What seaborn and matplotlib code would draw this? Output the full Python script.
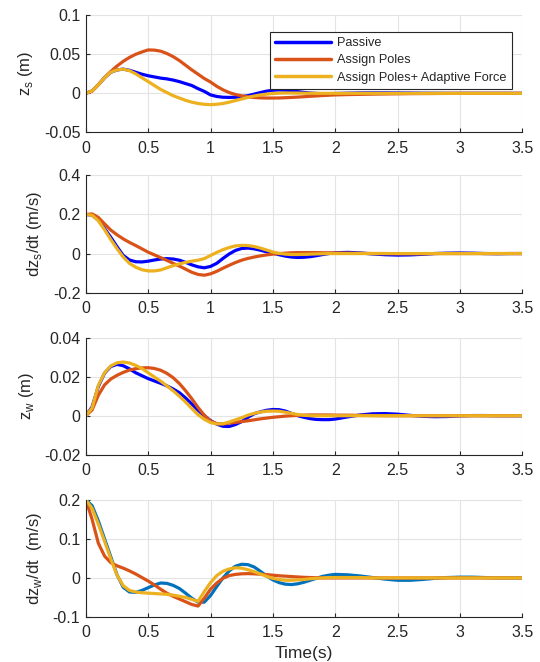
import numpy as np
import pandas as pd
import seaborn as sns
import matplotlib
matplotlib.use("Agg")
import matplotlib.pyplot as plt

# time grid of the read-off samples
t = np.round(np.concatenate([np.arange(0, 2.001, 0.05), np.arange(2.1, 3.501, 0.1)]), 2)

labels = ["Passive", "Assign Poles", "Assign Poles+ Adaptive Force"]

# ---- z_s (m)
zs_passive = [0, .003, .011, .020, .027, .030, .031, .0295, .027, .0245, .0225,
              .021, .0195, .0185, .017, .015, .0125, .010, .006, .0025, -.002,
              -.004, -.005, -.0052, -.005, -.0042, -.003, -.001, .001, .0028, .004,
              .0043, .004, .0032, .0022, .0012, .0004, -.0001, -.0004, -.0004, -.0002,
              .0002, .0005, .0006, .0006, .0005, .0004, .0002, .0001, 0, 0, 0, 0, 0, 0, 0]
zs_poles = [0, .003, .011, .020, .028, .035, .041, .046, .050, .053, .0556,
            .0553, .054, .051, .047, .042, .036, .030, .0245, .019, .0145,
            .009, .0045, .001, -.0015, -.0032, -.0045, -.0053, -.0058, -.006, -.006,
            -.0059, -.0056, -.0052, -.0048, -.0043, -.0038, -.0033, -.0028, -.0024, -.002,
            -.0016, -.0013, -.001, -.0008, -.0006, -.0004, -.0003, -.0002, -.0001, 0, 0, 0, 0, 0, 0]
zs_adaptive = [0, .003, .011, .020, .027, .030, .031, .029, .025, .020, .015,
               .010, .005, .001, -.003, -.006, -.009, -.0113, -.013, -.014, -.0145,
               -.014, -.013, -.0113, -.0093, -.0072, -.0052, -.0034, -.002, -.001, -.0003,
               .0002, .0004, .0004, .0003, .0002, .0001, 0, 0, 0, 0,
               0, 0, 0, 0, 0, 0, 0, 0, 0, 0, 0, 0, 0, 0, 0]

# ---- dz_s/dt (m/s)
dzs_passive = [.200, .197, .172, .128, .083, .035, -.010, -.033, -.042, -.043, -.039,
               -.033, -.028, -.026, -.028, -.034, -.045, -.058, -.068, -.073, -.066,
               -.050, -.025, -.002, .016, .026, .028, .024, .017, .009, .002,
               -.006, -.013, -.018, -.020, -.019, -.016, -.011, -.005, 0, .004,
               .006, .003, -.002, -.006, -.008, -.007, -.004, 0, .002, .003, .002, 0, -.001, 0, 0]
dzs_poles = [.200, .203, .185, .152, .120, .096, .075, .057, .041, .024, .007,
             -.007, -.021, -.035, -.050, -.064, -.080, -.096, -.107, -.111, -.104,
             -.091, -.075, -.060, -.046, -.034, -.025, -.018, -.012, -.007, -.003,
             0, .002, .004, .005, .005, .005, .005, .004, .004, .003,
             .002, .001, 0, 0, -.001, -.001, -.001, 0, 0, 0, 0, 0, 0, 0, 0]
dzs_adaptive = [.200, .196, .168, .122, .072, .025, -.018, -.050, -.070, -.083, -.089,
                -.089, -.084, -.073, -.062, -.053, -.045, -.039, -.034, -.026, -.010,
                .006, .020, .031, .039, .042, .041, .036, .028, .018, .008,
                .001, -.003, -.005, -.005, -.004, -.003, -.002, -.001, 0, 0,
                0, 0, 0, 0, 0, 0, 0, 0, 0, 0, 0, 0, 0, 0, 0]

# ---- z_w (m)
zw_passive = [0, .0045, .015, .0218, .0252, .0263, .0256, .024, .022, .0205, .019,
              .0178, .0166, .0153, .0137, .0118, .0091, .006, .0028, 0, -.0025,
              -.0043, -.0054, -.0055, -.0045, -.003, -.0008, .001, .002, .0028, .0032,
              .0031, .0024, .0012, 0, -.0008, -.0015, -.0019, -.002, -.002, -.0017,
              -.0006, .0004, .001, .0011, .0008, .0002, -.0003, -.0005, -.0004, -.0001,
              .0001, .0001, 0, 0, 0]
zw_poles = [0, .003, .0105, .0158, .0188, .0207, .0222, .0234, .0241, .0245, .0246,
            .0242, .0233, .0217, .0195, .0165, .0128, .0087, .0042, .0003, -.0028,
            -.004, -.0042, -.0038, -.0034, -.003, -.0026, -.0021, -.0016, -.0012, -.0008,
            -.0005, -.0002, 0, .0002, .0003, .0004, .0004, .0004, .0004, .0003,
            .0003, .0002, .0001, 0, 0, 0, 0, 0, 0, 0, 0, 0, 0, 0, 0]
zw_adaptive = [0, .004, .0155, .022, .0255, .0271, .0275, .027, .0258, .0242, .022,
               .0198, .0177, .0153, .0128, .010, .007, .0037, .0005, -.0018, -.0035,
               -.0042, -.0041, -.0032, -.0021, -.001, .0003, .0012, .0019, .0023, .0024,
               .0023, .0018, .0012, .0006, .0002, 0, 0, 0, 0, 0,
               0, 0, 0, 0, 0, 0, 0, 0, 0, 0, 0, 0, 0, 0, 0]

# ---- dz_w/dt (m/s)
dzw_passive = [.200, .185, .146, .100, .054, .008, -.024, -.036, -.037, -.032, -.025,
               -.018, -.013, -.014, -.019, -.027, -.039, -.052, -.062, -.062, -.045,
               -.022, 0, .018, .030, .035, .034, .028, .017, .005, -.005,
               -.012, -.016, -.017, -.015, -.011, -.006, -.001, .004, .007, .009,
               .008, .005, .001, -.003, -.006, -.006, -.004, -.001, .001, .002,
               .002, .001, 0, 0, 0]
dzw_poles = [.200, .150, .089, .056, .039, .031, .025, .018, .010, .001, -.008,
             -.018, -.029, -.039, -.047, -.054, -.061, -.068, -.072, -.052, -.029,
             -.013, -.001, .006, .009, .0105, .011, .0105, .0095, .0085, .007,
             .0055, .0045, .0035, .0025, .0015, .001, .0005, 0, 0, 0,
             0, 0, 0, 0, 0, 0, 0, 0, 0, 0, 0, 0, 0, 0, 0]
dzw_adaptive = [.200, .178, .138, .094, .049, .007, -.020, -.032, -.036, -.038, -.039,
                -.040, -.041, -.042, -.044, -.047, -.050, -.055, -.060, -.035, -.012,
                .006, .017, .023, .026, .025, .021, .016, .010, .004, -.001,
                -.004, -.006, -.006, -.005, -.004, -.002, -.001, 0, .001, .001,
                .001, .001, 0, 0, 0, 0, 0, 0, 0, 0, 0, 0, 0, 0, 0]

panels = [
    ([zs_passive, zs_poles, zs_adaptive], "z$_\\mathregular{s}$ (m)",
     [-0.05, 0, 0.05, 0.1], ["-0.05", "0", "0.05", "0.1"]),
    ([dzs_passive, dzs_poles, dzs_adaptive], "dz$_\\mathregular{s}$/dt (m/s)",
     [-0.2, 0, 0.2, 0.4], ["-0.2", "0", "0.2", "0.4"]),
    ([zw_passive, zw_poles, zw_adaptive], "z$_\\mathregular{w}$ (m)",
     [-0.02, 0, 0.02, 0.04], ["-0.02", "0", "0.02", "0.04"]),
    ([dzw_passive, dzw_poles, dzw_adaptive], "dz$_\\mathregular{w}$/dt  (m/s)",
     [-0.1, 0, 0.1, 0.2], ["-0.1", "0", "0.1", "0.2"]),
]
x_ticks = [0, 0.5, 1, 1.5, 2, 2.5, 3, 3.5]
x_ticklabels = ["0", "0.5", "1", "1.5", "2", "2.5", "3", "3.5"]

palettes = [
    ["#0000FF", "#D95319", "#EDB120"],
    ["#0000FF", "#D95319", "#EDB120"],
    ["#0000FF", "#D95319", "#EDB120"],
    ["#0072BD", "#D95319", "#EDB120"],
]

sns.set_style("white")
plt.rcParams["font.family"] = ["Liberation Sans", "DejaVu Sans"]
plt.rcParams["axes.unicode_minus"] = False
plt.rcParams["mathtext.fontset"] = "custom"
plt.rcParams["mathtext.rm"] = "Liberation Sans"

fig = plt.figure(figsize=(5.4, 6.62), dpi=100)
left, width, height = 0.159, 0.808, 0.177
bottoms = [0.800, 0.558, 0.313, 0.068]
ink = "#262626"

for i, (series, ylab, yt, ytl) in enumerate(panels):
    ax = fig.add_axes([left, bottoms[i], width, height])
    df = pd.DataFrame({"t": np.tile(t, 3),
                       "v": np.concatenate(series),
                       "case": np.repeat(labels, len(t))})
    sns.lineplot(data=df, x="t", y="v", hue="case", hue_order=labels,
                 palette=palettes[i], lw=2.3, ax=ax, legend=(i == 0), sort=False)
    ax.set_xlim(0, 3.5)
    ax.set_ylim(yt[0], yt[-1])
    ax.set_xticks(x_ticks)
    ax.set_xticklabels(x_ticklabels)
    ax.set_yticks(yt)
    ax.set_yticklabels(ytl)
    ax.grid(True, color="#e3e3e3", lw=0.8)
    ax.set_axisbelow(True)
    for s in ["top", "right"]:
        ax.spines[s].set_visible(False)
    for s in ["left", "bottom"]:
        ax.spines[s].set_color(ink)
        ax.spines[s].set_linewidth(0.8)
    ax.tick_params(direction="in", length=3, width=0.8, colors=ink,
                   labelsize=11.5, left=True, bottom=True)
    ax.tick_params(axis="x", pad=6)
    ax.tick_params(axis="y", pad=4)
    ax.set_ylabel(ylab, fontsize=12, color=ink, labelpad=6)
    if i == 3:
        ax.set_xlabel("Time(s)", fontsize=12.5, color=ink, labelpad=4)
    else:
        ax.set_xlabel("")
    if i == 0:
        leg = ax.legend(loc="upper right", bbox_to_anchor=(0.991, 0.909),
                        fontsize=9.2, handlelength=4.4, handletextpad=0.5,
                        labelspacing=0.4, borderpad=0.4, fancybox=False,
                        framealpha=1, edgecolor=ink, title=None)
        leg.get_frame().set_linewidth(0.8)
        for line in leg.get_lines():
            line.set_linewidth(2.5)

fig.savefig("out.png", dpi=100)
